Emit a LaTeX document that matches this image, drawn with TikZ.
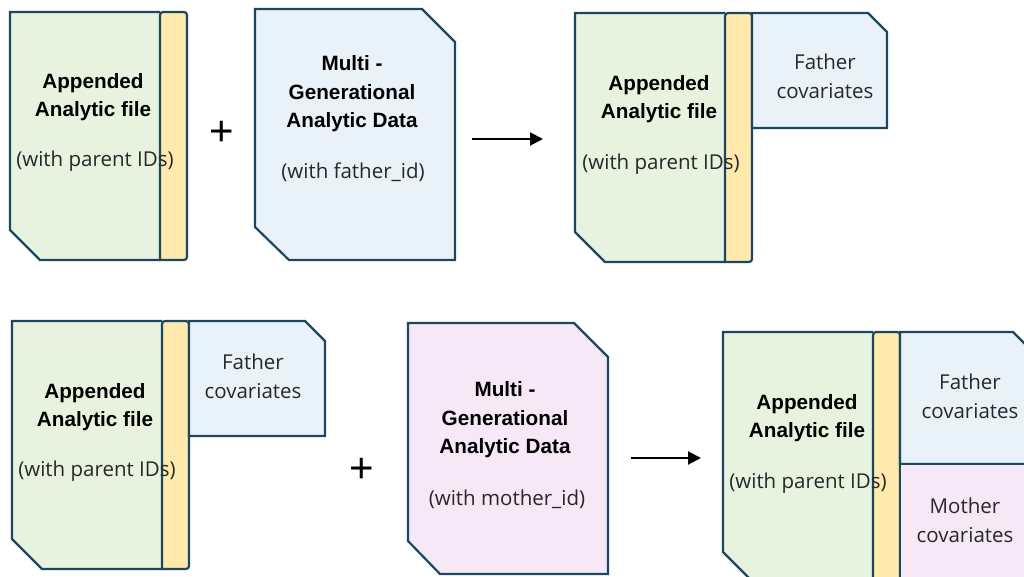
\documentclass[tikz,border=0pt]{standalone}
\usepackage{fontspec}
\setmainfont{Liberation Sans}
\newfontfamily\regfont{Open Sans}
\usetikzlibrary{arrows.meta}
\definecolor{bord}{RGB}{27,72,96}
\definecolor{gfill}{RGB}{231,243,222}
\definecolor{yfill}{RGB}{255,233,172}
\definecolor{bfill}{RGB}{233,241,249}
\definecolor{pfill}{RGB}{246,232,246}
\definecolor{txtgray}{RGB}{40,40,40}
\tikzset{
  box/.style={draw=bord, line width=2.2pt, line join=miter},
  title/.style={font=\fontsize{20.7}{28.5}\selectfont\bfseries, text=black, align=center, inner sep=0pt},
  sub/.style={font=\regfont\fontsize{20.5}{29}\selectfont, text=txtgray, align=center, inner sep=0pt},
  arr/.style={-{Triangle[length=13pt,width=13pt]}, line width=2pt, black},
  plus/.style={font=\fontsize{42}{42}\selectfont, inner sep=0pt}
}
% green file with yellow strip: #1 left x, #2 top y, #3 bottom y
\newcommand\greenfile[3]{%
  \fill[gfill] (#1,#2) -- (#1+150,#2) -- (#1+150,#3) -- (#1+30,#3) -- (#1,#3-30) -- cycle;
  \draw[box] (#1+150,#2) -- (#1,#2) -- (#1,#3-30) -- (#1+30,#3) -- (#1+150,#3);
  \draw[box, fill=yfill, rounded corners=3pt] (#1+150,#3) -- (#1+150,#2) -- (#1+177,#2) -- (#1+177,#3) [sharp corners] -- cycle;
}
\begin{document}
\begin{tikzpicture}[x=1pt,y=-1pt]
\clip (0,0) rectangle (1024,577);
\fill[white] (0,0) rectangle (1024,577);

% ---------- Panel 1 ----------
\greenfile{10}{12}{260}
\node[title] (t1) at (93,97) {Appended\\Analytic file};
\node[sub] (s1) at (95,161) {(with parent IDs)};

\node[plus] (p1) at (221.5,133) {+};

% ---------- Panel 2 ----------
\draw[box, fill=bfill] (255,9) -- (422,9) -- (455,42) -- (455,260) -- (289,260) -- (255,227) -- cycle;
\node[title] (t2) at (352,94) {Multi -\\Generational\\Analytic Data};
\node[sub] (s2) at (353,172) {(with father\_id)};

\coordinate (a1s) at (472,139);
\coordinate (a1e) at (543,139);
\draw[arr] (a1s) -- (a1e);

% ---------- Panel 3 ----------
\greenfile{575}{13}{262}
\draw[box, fill=bfill] (752,13) -- (868,13) -- (887,32) -- (887,128) -- (752,128) -- cycle;
\node[title] (t3) at (659,99) {Appended\\Analytic file};
\node[sub] (s3) at (661,164) {(with parent IDs)};
\node[sub] (f3) at (825,76) {Father\\covariates};

% ---------- Panel 4 ----------
\greenfile{12}{321}{569}
\draw[box, fill=bfill] (189,321) -- (305,321) -- (325,341) -- (325,436) -- (189,436) -- cycle;
\node[title] (t4) at (95,407) {Appended\\Analytic file};
\node[sub] (s4) at (97,471) {(with parent IDs)};
\node[sub] (f4) at (253,376) {Father\\covariates};

\node[plus] (p2) at (361.5,470) {+};

% ---------- Panel 5 ----------
\draw[box, fill=pfill] (408,323) -- (574,323) -- (608,357) -- (608,574) -- (440,574) -- (408,541) -- cycle;
\node[title] (t5) at (505,420) {Multi -\\Generational\\Analytic Data};
\node[sub] (s5) at (507,499) {(with mother\_id)};

\coordinate (a2s) at (631,458);
\coordinate (a2e) at (701,458);
\draw[arr] (a2s) -- (a2e);

% ---------- Panel 6 ----------
\greenfile{723}{332}{582}
\draw[box, fill=bfill] (900,332) -- (1013,332) -- (1040,359) -- (1040,464) -- (900,464) -- cycle;
\draw[box, fill=pfill] (900,464) rectangle (1040,590);
\node[title] (t6) at (807,418) {Appended\\Analytic file};
\node[sub] (s6) at (808,483) {(with parent IDs)};
\node[sub] (f6) at (970,396) {Father\\covariates};
\node[sub] (m6) at (965,520) {Mother\\covariates};
\end{tikzpicture}
\end{document}
